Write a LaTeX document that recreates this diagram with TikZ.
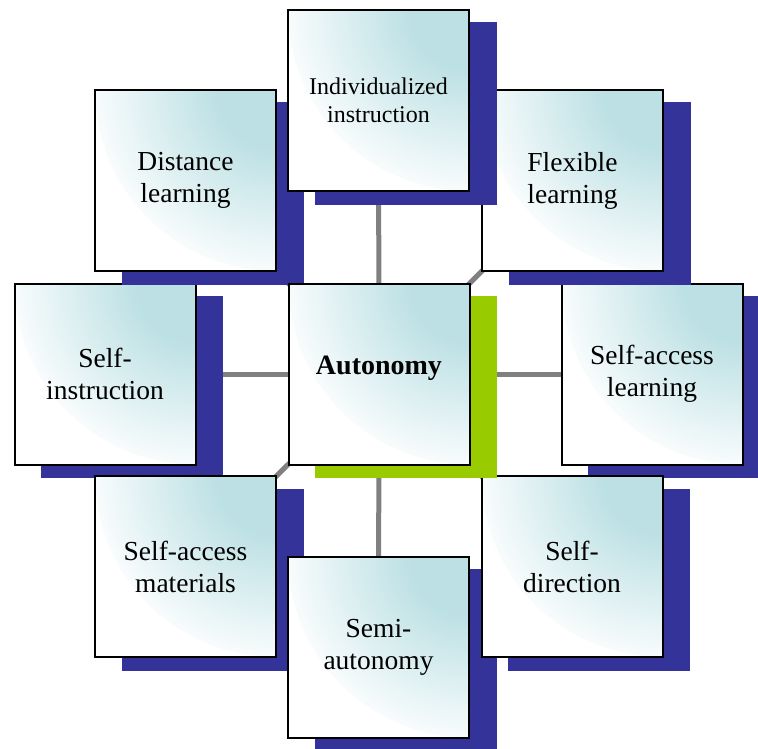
\documentclass[tikz,border=0pt]{standalone}
\usepackage{fontspec}
\setmainfont{Liberation Serif}
\usetikzlibrary{backgrounds}
\definecolor{boxteal}{RGB}{188,224,228}
\definecolor{shadowblue}{RGB}{51,51,153}
\definecolor{shadowgreen}{RGB}{153,204,0}
\definecolor{linkgray}{RGB}{128,128,128}
\pgfdeclareradialshading{cornerfade}{\pgfpoint{0bp}{0bp}}{color(0bp)=(boxteal); color(8bp)=(boxteal); color(27bp)=(white); color(50bp)=(white)}
\tikzset{
  box/.style={draw=black, line width=2pt, fill=white, minimum size=181pt, inner sep=0pt,
    align=center, font=\fontsize{27.5}{32}\selectfont,
    path picture={\shade[shading=cornerfade] (path picture bounding box.north east) circle (181pt);}},
  smallbox/.style={box, font=\fontsize{24}{28}\selectfont},
  centerbox/.style={box, font=\fontsize{28}{32}\selectfont\bfseries, text height=5pt, text depth=5pt},
  link/.style={draw=linkgray, line width=5pt},
  shadowfill/.style={fill=#1}
}
\newcommand\shadowat[3]{%
  \path (#1,#2) coordinate (tmpc);
  \fill[shadowfill=#3] ([shift={(-64,-78)}]tmpc) rectangle ([shift={(118,104)}]tmpc);}
\begin{document}
\begin{tikzpicture}[x=1pt,y=-1pt]
\useasboundingbox (0,0) rectangle (758,749);
\clip (0,0) rectangle (758,749);
% boxes, in stacking order
\shadowat{652}{374}{shadowblue}
\node[box] (sal) at (652,374) {Self-access\\learning};
\shadowat{105}{374}{shadowblue}
\node[box] (sinst) at (105,374) {Self-\\instruction};
\shadowat{185.5}{566.5}{shadowblue}
\node[box] (sam) at (185.5,566.5) {Self-access\\materials};
\shadowat{378.5}{647}{shadowblue}
\node[box] (semi) at (378.5,647) {Semi-\\autonomy};
\shadowat{572}{566.5}{shadowblue}
\node[box] (sdir) at (572,566.5) {Self-\\direction};
\shadowat{185.5}{180.5}{shadowblue}
\node[box] (dist) at (185.5,180.5) {Distance\\learning};
\shadowat{572.5}{180.5}{shadowblue}
\node[box] (flex) at (572.5,180.5) {Flexible\\learning};
\shadowat{378.5}{100.5}{shadowblue}
\node[smallbox] (ind) at (378.5,100.5) {Individualized\\instruction};
\shadowat{379}{374}{shadowgreen}
\node[centerbox] (auto) at (379,374) {Autonomy};
% connectors
\begin{scope}[on background layer]
\foreach \n in {ind,dist,flex,sinst,sal,sam,sdir,semi}
  \draw[link] (auto.center) -- (\n.center);
\end{scope}
\end{tikzpicture}
\end{document}
